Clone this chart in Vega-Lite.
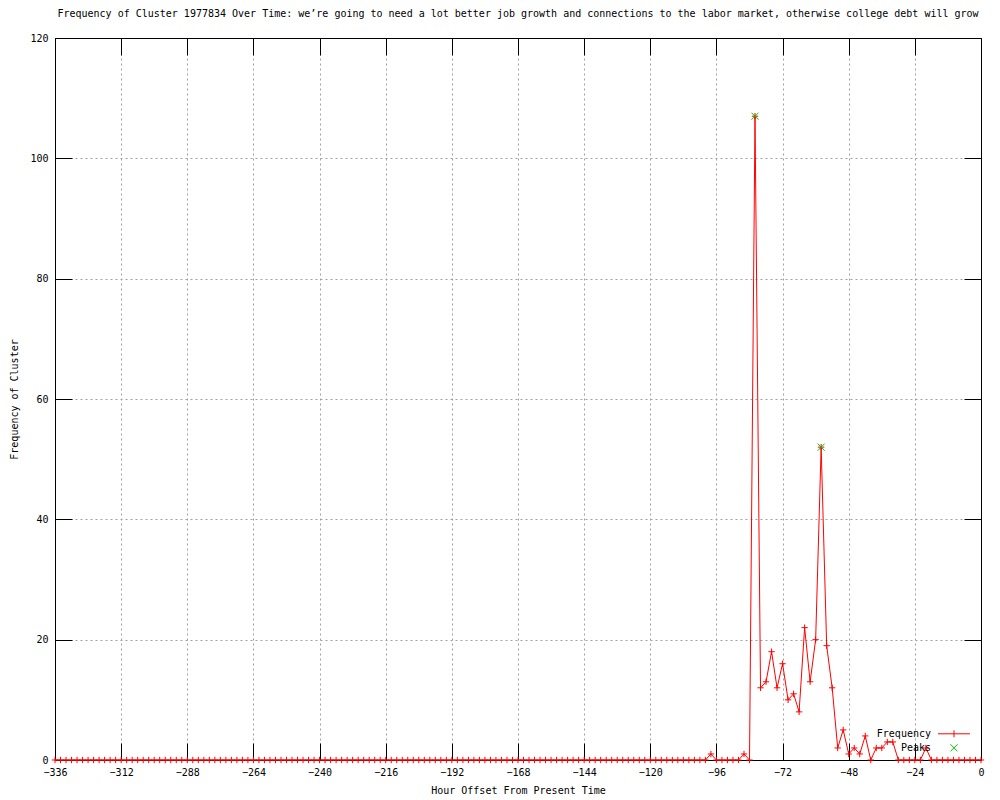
{
  "$schema": "https://vega.github.io/schema/vega-lite/v6.json",
  "width": 926,
  "height": 722,
  "autosize": "none",
  "padding": {"left": 55, "top": 38, "right": 19, "bottom": 40},
  "background": "white",
  "title": {"text": "Frequency of Cluster 1977834 Over Time: we’re going to need a lot better job growth and connections to the labor market, otherwise college debt will grow", "font": "DejaVu Sans Mono", "fontSize": 10, "fontWeight": "normal", "color": "black", "anchor": "middle", "offset": 14},
  "config": {
    "view": {"stroke": "black", "strokeWidth": 1},
    "axis": {"labelFont": "DejaVu Sans Mono", "labelFontSize": 10, "labelColor": "black", "titleFont": "DejaVu Sans Mono", "titleFontSize": 10, "titleFontWeight": "normal", "titleColor": "black", "domainColor": "black", "tickColor": "black", "gridColor": "#a0a0a0", "gridDash": [2, 3], "gridWidth": 1, "gridOpacity": 1, "labelFlush": false, "labelOverlap": false}
  },
  "datasets": {
    "freq": [
      {"hour": -336, "freq": 0}, {"hour": -334, "freq": 0}, {"hour": -332, "freq": 0}, {"hour": -330, "freq": 0}, {"hour": -328, "freq": 0}, {"hour": -326, "freq": 0}, {"hour": -324, "freq": 0}, {"hour": -322, "freq": 0}, {"hour": -320, "freq": 0}, {"hour": -318, "freq": 0},
      {"hour": -316, "freq": 0}, {"hour": -314, "freq": 0}, {"hour": -312, "freq": 0}, {"hour": -310, "freq": 0}, {"hour": -308, "freq": 0}, {"hour": -306, "freq": 0}, {"hour": -304, "freq": 0}, {"hour": -302, "freq": 0}, {"hour": -300, "freq": 0}, {"hour": -298, "freq": 0},
      {"hour": -296, "freq": 0}, {"hour": -294, "freq": 0}, {"hour": -292, "freq": 0}, {"hour": -290, "freq": 0}, {"hour": -288, "freq": 0}, {"hour": -286, "freq": 0}, {"hour": -284, "freq": 0}, {"hour": -282, "freq": 0}, {"hour": -280, "freq": 0}, {"hour": -278, "freq": 0},
      {"hour": -276, "freq": 0}, {"hour": -274, "freq": 0}, {"hour": -272, "freq": 0}, {"hour": -270, "freq": 0}, {"hour": -268, "freq": 0}, {"hour": -266, "freq": 0}, {"hour": -264, "freq": 0}, {"hour": -262, "freq": 0}, {"hour": -260, "freq": 0}, {"hour": -258, "freq": 0},
      {"hour": -256, "freq": 0}, {"hour": -254, "freq": 0}, {"hour": -252, "freq": 0}, {"hour": -250, "freq": 0}, {"hour": -248, "freq": 0}, {"hour": -246, "freq": 0}, {"hour": -244, "freq": 0}, {"hour": -242, "freq": 0}, {"hour": -240, "freq": 0}, {"hour": -238, "freq": 0},
      {"hour": -236, "freq": 0}, {"hour": -234, "freq": 0}, {"hour": -232, "freq": 0}, {"hour": -230, "freq": 0}, {"hour": -228, "freq": 0}, {"hour": -226, "freq": 0}, {"hour": -224, "freq": 0}, {"hour": -222, "freq": 0}, {"hour": -220, "freq": 0}, {"hour": -218, "freq": 0},
      {"hour": -216, "freq": 0}, {"hour": -214, "freq": 0}, {"hour": -212, "freq": 0}, {"hour": -210, "freq": 0}, {"hour": -208, "freq": 0}, {"hour": -206, "freq": 0}, {"hour": -204, "freq": 0}, {"hour": -202, "freq": 0}, {"hour": -200, "freq": 0}, {"hour": -198, "freq": 0},
      {"hour": -196, "freq": 0}, {"hour": -194, "freq": 0}, {"hour": -192, "freq": 0}, {"hour": -190, "freq": 0}, {"hour": -188, "freq": 0}, {"hour": -186, "freq": 0}, {"hour": -184, "freq": 0}, {"hour": -182, "freq": 0}, {"hour": -180, "freq": 0}, {"hour": -178, "freq": 0},
      {"hour": -176, "freq": 0}, {"hour": -174, "freq": 0}, {"hour": -172, "freq": 0}, {"hour": -170, "freq": 0}, {"hour": -168, "freq": 0}, {"hour": -166, "freq": 0}, {"hour": -164, "freq": 0}, {"hour": -162, "freq": 0}, {"hour": -160, "freq": 0}, {"hour": -158, "freq": 0},
      {"hour": -156, "freq": 0}, {"hour": -154, "freq": 0}, {"hour": -152, "freq": 0}, {"hour": -150, "freq": 0}, {"hour": -148, "freq": 0}, {"hour": -146, "freq": 0}, {"hour": -144, "freq": 0}, {"hour": -142, "freq": 0}, {"hour": -140, "freq": 0}, {"hour": -138, "freq": 0},
      {"hour": -136, "freq": 0}, {"hour": -134, "freq": 0}, {"hour": -132, "freq": 0}, {"hour": -130, "freq": 0}, {"hour": -128, "freq": 0}, {"hour": -126, "freq": 0}, {"hour": -124, "freq": 0}, {"hour": -122, "freq": 0}, {"hour": -120, "freq": 0}, {"hour": -118, "freq": 0},
      {"hour": -116, "freq": 0}, {"hour": -114, "freq": 0}, {"hour": -112, "freq": 0}, {"hour": -110, "freq": 0}, {"hour": -108, "freq": 0}, {"hour": -106, "freq": 0}, {"hour": -104, "freq": 0}, {"hour": -102, "freq": 0}, {"hour": -100, "freq": 0}, {"hour": -98, "freq": 1},
      {"hour": -96, "freq": 0}, {"hour": -94, "freq": 0}, {"hour": -92, "freq": 0}, {"hour": -90, "freq": 0}, {"hour": -88, "freq": 0}, {"hour": -86, "freq": 1}, {"hour": -84, "freq": 0}, {"hour": -82, "freq": 107}, {"hour": -80, "freq": 12}, {"hour": -78, "freq": 13},
      {"hour": -76, "freq": 18}, {"hour": -74, "freq": 12}, {"hour": -72, "freq": 16}, {"hour": -70, "freq": 10}, {"hour": -68, "freq": 11}, {"hour": -66, "freq": 8}, {"hour": -64, "freq": 22}, {"hour": -62, "freq": 13}, {"hour": -60, "freq": 20}, {"hour": -58, "freq": 52},
      {"hour": -56, "freq": 19}, {"hour": -54, "freq": 12}, {"hour": -52, "freq": 2}, {"hour": -50, "freq": 5}, {"hour": -48, "freq": 1}, {"hour": -46, "freq": 2}, {"hour": -44, "freq": 1}, {"hour": -42, "freq": 4}, {"hour": -40, "freq": 0}, {"hour": -38, "freq": 2},
      {"hour": -36, "freq": 2}, {"hour": -34, "freq": 3}, {"hour": -32, "freq": 3}, {"hour": -30, "freq": 0}, {"hour": -28, "freq": 0}, {"hour": -26, "freq": 0}, {"hour": -24, "freq": 0}, {"hour": -22, "freq": 0}, {"hour": -20, "freq": 2}, {"hour": -18, "freq": 0},
      {"hour": -16, "freq": 0}, {"hour": -14, "freq": 0}, {"hour": -12, "freq": 0}, {"hour": -10, "freq": 0}, {"hour": -8, "freq": 0}, {"hour": -6, "freq": 0}, {"hour": -4, "freq": 0}, {"hour": -2, "freq": 0}, {"hour": 0, "freq": 0}
    ],
    "peaks": [
      {"hour": -82, "freq": 107},
      {"hour": -58, "freq": 52}
    ]
  },
  "layer": [
    {
      "data": {"name": "freq"},
      "mark": {"type": "line", "strokeWidth": 1, "clip": false},
      "encoding": {
        "x": {"field": "hour", "type": "quantitative", "scale": {"domain": [-336, 0], "nice": false, "zero": false},
              "axis": {"orient": "bottom", "values": [-336, -312, -288, -264, -240, -216, -192, -168, -144, -120, -96, -72, -48, -24, 0], "format": "d", "tickSize": -17, "labelPadding": 24, "grid": true, "title": "Hour Offset From Present Time", "titlePadding": 8}},
        "y": {"field": "freq", "type": "quantitative", "scale": {"domain": [0, 120], "nice": false},
              "axis": {"orient": "left", "values": [0, 20, 40, 60, 80, 100, 120], "tickSize": -17, "labelPadding": 24, "grid": true, "title": "Frequency of Cluster", "titlePadding": 10}},
        "color": {"datum": "Frequency", "type": "nominal", "scale": {"domain": ["Frequency", "Peaks"], "range": ["#ff0000", "#00c000"]},
                  "legend": {"title": null, "orient": "none", "legendX": 893.5, "legendY": 690.3, "padding": 0, "symbolSize": 100, "labelAlign": "right", "labelOffset": -28.5, "labelFont": "DejaVu Sans Mono", "labelFontSize": 10, "labelColor": "black", "rowPadding": 3, "labelBaseline": "middle",
                             "encode": {"symbols": {"update": {
                               "shape": {"signal": "datum.value === 'Frequency' ? 'M-3.2,0H3.2M0,-0.7V0.7' : 'M-0.7,-0.7L0.7,0.7M-0.7,0.7L0.7,-0.7'"},
                               "stroke": {"signal": "datum.value === 'Frequency' ? '#ff0000' : '#00c000'"},
                               "fill": {"value": "transparent"},
                               "strokeWidth": {"value": 1},
                               "opacity": {"value": 1}}}}}}
      }
    },
    {
      "data": {"name": "freq"},
      "mark": {"type": "point", "shape": "M-1,0H1M0,-1V1", "size": 40, "filled": false, "strokeWidth": 1, "opacity": 1, "clip": false},
      "encoding": {
        "x": {"field": "hour", "type": "quantitative", "axis": {"orient": "top", "values": [-336, -312, -288, -264, -240, -216, -192, -168, -144, -120, -96, -72, -48, -24, 0], "tickSize": -17, "labels": false, "grid": false, "title": null}},
        "y": {"field": "freq", "type": "quantitative", "axis": {"orient": "right", "values": [0, 20, 40, 60, 80, 100, 120], "tickSize": -17, "labels": false, "grid": false, "title": null}},
        "color": {"datum": "Frequency", "type": "nominal"}
      }
    },
    {
      "data": {"name": "peaks"},
      "mark": {"type": "point", "shape": "M-1,-1L1,1M-1,1L1,-1", "size": 49, "filled": false, "strokeWidth": 1, "opacity": 1, "clip": false},
      "encoding": {
        "x": {"field": "hour", "type": "quantitative", "axis": null},
        "y": {"field": "freq", "type": "quantitative", "axis": null},
        "color": {"datum": "Peaks", "type": "nominal"}
      }
    }
  ]
}
